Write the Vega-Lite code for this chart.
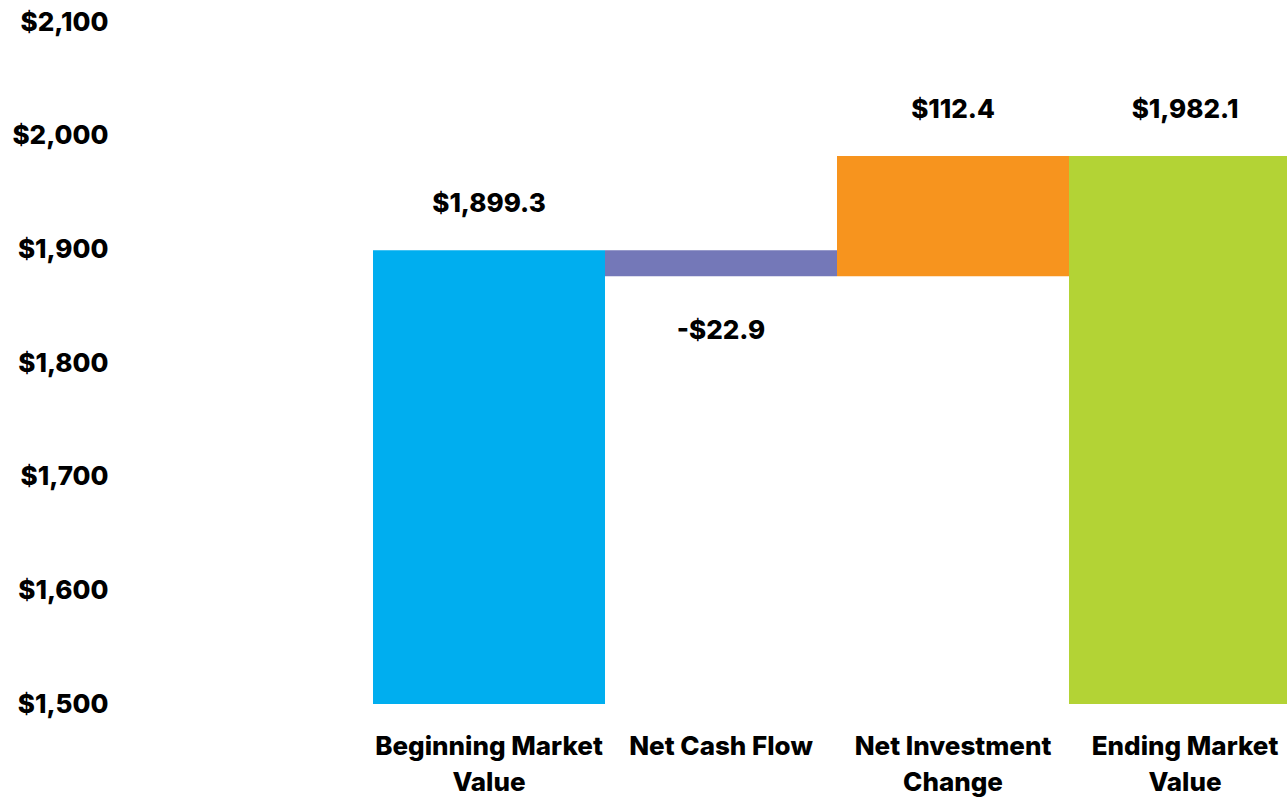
{
  "$schema": "https://vega.github.io/schema/vega-lite/v6.json",
  "autosize": {"type": "none"},
  "padding": {"left": 125, "top": 22, "right": 0, "bottom": 95},
  "width": 1176,
  "height": 682,
  "background": "white",
  "config": {"view": {"stroke": null}, "font": "Inter"},
  "data": {"values": [
    {"step": "Beginning Market\nValue", "start": 0, "end": 1899.3, "label": "$1,899.3", "dir": "up", "color": "#00AEEF"},
    {"step": "Net Cash Flow", "start": 1899.3, "end": 1876.4, "label": "-$22.9", "dir": "down", "color": "#7478B8"},
    {"step": "Net Investment\nChange", "start": 1876.4, "end": 1982.1, "label": "$112.4", "dir": "up", "color": "#F7941E"},
    {"step": "Ending Market\nValue", "start": 0, "end": 1982.1, "label": "$1,982.1", "dir": "up", "color": "#B3D335"}
  ]},
  "encoding": {
    "x": {
      "field": "step", "type": "nominal", "sort": null,
      "scale": {"paddingInner": 0, "paddingOuter": 0.5345, "align": 1},
      "axis": {
        "title": null, "domain": false, "ticks": false, "labelAngle": 0,
        "labelExpr": "split(datum.label, '\\n')",
        "labelFont": "Inter", "labelFontWeight": 800, "labelFontSize": 26,
        "labelColor": "#000000", "labelPadding": 42, "labelLineHeight": 36,
        "labelBaseline": "middle", "labelLimit": 0
      }
    }
  },
  "layer": [
    {
      "mark": {"type": "bar", "clip": true},
      "encoding": {
        "y": {
          "field": "end", "type": "quantitative",
          "scale": {"domain": [1500, 2100], "zero": false, "nice": false},
          "axis": {
            "title": null, "domain": false, "ticks": false, "grid": false,
            "values": [1500, 1600, 1700, 1800, 1900, 2000, 2100],
            "format": "$,.0f", "labelFont": "Inter", "labelFontWeight": 800,
            "labelFontSize": 26, "labelColor": "#000000", "labelPadding": 17
          }
        },
        "y2": {"field": "start"},
        "color": {"field": "color", "type": "nominal", "scale": null}
      }
    },
    {
      "transform": [{"filter": "datum.dir == 'up'"}],
      "mark": {"type": "text", "dy": -46, "font": "Inter", "fontWeight": 800, "fontSize": 26, "color": "#000000"},
      "encoding": {
        "y": {"field": "end", "type": "quantitative"},
        "text": {"field": "label"}
      }
    },
    {
      "transform": [{"filter": "datum.dir == 'down'"}],
      "mark": {"type": "text", "dy": 55, "font": "Inter", "fontWeight": 800, "fontSize": 26, "color": "#000000"},
      "encoding": {
        "y": {"field": "end", "type": "quantitative"},
        "text": {"field": "label"}
      }
    }
  ]
}
